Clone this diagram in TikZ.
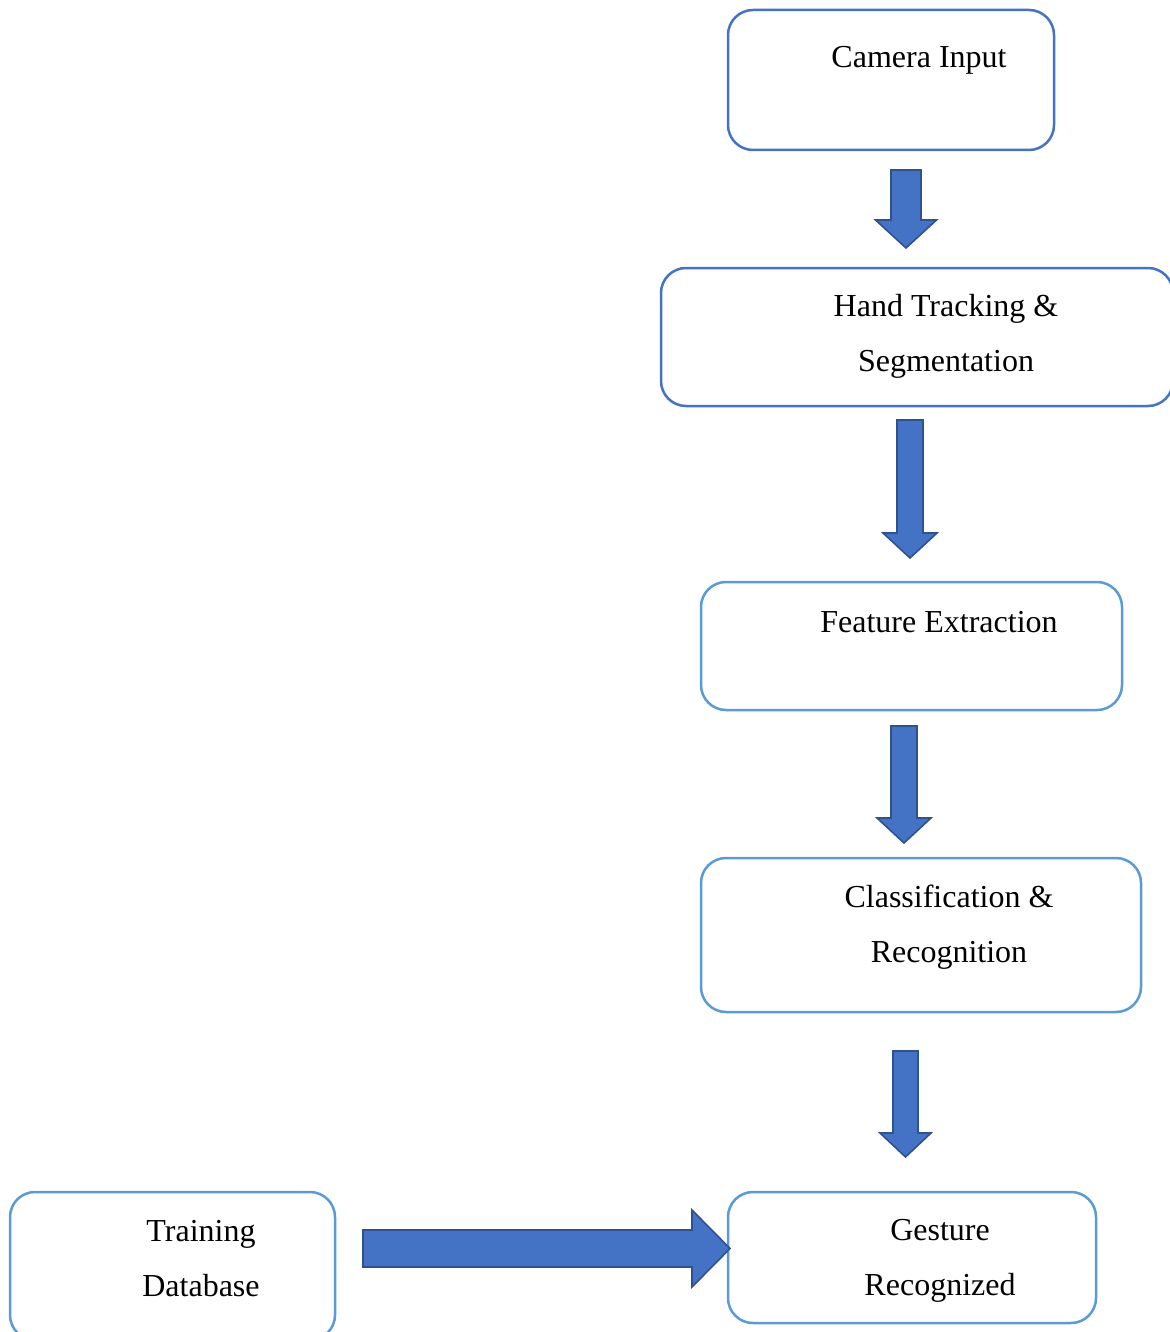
\documentclass[tikz,border=0pt]{standalone}
\usepackage{fontspec}
\setmainfont{Liberation Serif}
\definecolor{arrowblue}{HTML}{4472C4}
\definecolor{arrowedge}{HTML}{2F528F}
\definecolor{boxdark}{HTML}{4472C4}
\definecolor{boxlight}{HTML}{5B9BD5}
\tikzset{
  box/.style={draw=boxlight, line width=1.25pt, rounded corners=12.5pt, fill=white, inner sep=0pt},
  boxd/.style={box, draw=boxdark},
  txt/.style={align=center, inner sep=0pt},
  blockarrow/.style={fill=arrowblue, draw=arrowedge, line width=0.8pt, line join=miter}
}
\begin{document}
\begin{tikzpicture}[x=0.5pt, y=-0.5pt, font=\fontsize{16}{27.5}\selectfont, line cap=round]
			\useasboundingbox (0,0) rectangle (1170,1332);
			% boxes
			\node[boxd, minimum width=163pt, minimum height=70pt] (cam) at (891,80) {};
			\node[boxd, minimum width=256pt, minimum height=69pt] (track) at (917,337) {};
			\node[box, minimum width=210.5pt, minimum height=64pt] (feat) at (911.5,646) {};
			\node[box, minimum width=220pt, minimum height=77pt] (classif) at (921,935) {};
			\node[box, minimum width=184pt, minimum height=65.5pt] (gesture) at (912,1257.5) {};
			\node[box, minimum width=162.5pt, minimum height=74pt] (train) at (172.5,1266) {};
			% texts
			\node[txt] (cam-t) at (919,60) {Camera Input};
			\node[txt] (track-t) at (946,336) {Hand Tracking \&\\Segmentation};
			\node[txt] (feat-t) at (939,622) {Feature Extraction};
			\node[txt] (classif-t) at (949,927) {Classification \&\\Recognition};
			\node[txt] (gesture-t) at (940,1261) {Gesture\\Recognized};
			\node[txt] (train-t) at (201,1259) {Training\\Database};
			% block arrows
			\foreach \cx/\sw/\ya/\yb/\hw/\yc in {906/15/170/220/30.5/248, 910/13/420/533/27/558, 904/13/726/818/27/843, 905.5/12.5/1051/1133/25.5/1157}
				\draw[blockarrow] (\cx-\sw,\ya) -- (\cx+\sw,\ya) -- (\cx+\sw,\yb) -- (\cx+\hw,\yb) -- (\cx,\yc) -- (\cx-\hw,\yb) -- (\cx-\sw,\yb) -- cycle;
			\coordinate (tip) at (730,1248.5);
			\draw[blockarrow] (363,1230) -- (692,1230) -- (692,1210) -- (tip) -- (692,1287) -- (692,1267) -- (363,1267) -- cycle;
	\end{tikzpicture}
\end{document}
